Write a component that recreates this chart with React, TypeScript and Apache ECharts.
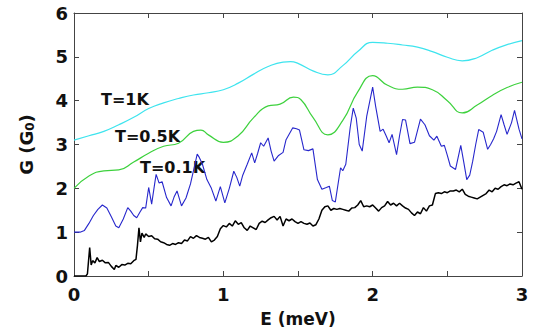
import React, { useEffect, useRef } from "react";
import * as echarts from "echarts";

// T = 1 K (cyan)
const E1 = [0, 0.1, 0.2, 0.3, 0.4, 0.5, 0.6, 0.7, 0.8, 0.9, 1.0, 1.1, 1.2, 1.3, 1.4, 1.45, 1.5, 1.6, 1.7, 1.8, 1.9, 2.0, 2.1, 2.2, 2.3, 2.4, 2.5, 2.6, 2.7, 2.8, 2.9, 3.0];
const G1 = [3.1, 3.2, 3.3, 3.45, 3.62, 3.82, 3.95, 4.05, 4.13, 4.18, 4.25, 4.4, 4.6, 4.78, 4.88, 4.89, 4.85, 4.68, 4.59, 4.8, 5.12, 5.33, 5.31, 5.27, 5.22, 5.12, 4.99, 4.91, 4.98, 5.15, 5.28, 5.37];

// T = 0.5 K (green)
const E05 = [0, 0.1, 0.2, 0.3, 0.4, 0.5, 0.6, 0.7, 0.8, 0.85, 0.9, 1.0, 1.1, 1.2, 1.3, 1.38, 1.47, 1.52, 1.6, 1.7, 1.8, 1.9, 2.0, 2.1, 2.2, 2.3, 2.4, 2.5, 2.6, 2.7, 2.8, 2.9, 3.0];
const G05 = [2.0, 2.28, 2.4, 2.42, 2.6, 2.8, 2.96, 3.03, 3.3, 3.33, 3.22, 3.05, 3.2, 3.6, 3.88, 3.92, 4.08, 4.02, 3.62, 3.22, 3.55, 4.2, 4.57, 4.35, 4.26, 4.31, 4.25, 4.0, 3.72, 3.9, 4.12, 4.3, 4.42];

// T = 0.1 K (blue)
const E01 = [0, 0.04, 0.07, 0.1, 0.13, 0.16, 0.19, 0.22, 0.25, 0.28, 0.3, 0.33, 0.36, 0.38, 0.4, 0.42, 0.44, 0.46, 0.48, 0.5, 0.52, 0.54, 0.55, 0.57, 0.59, 0.62, 0.65, 0.67, 0.69, 0.72, 0.75, 0.78, 0.81, 0.825, 0.84, 0.86, 0.89, 0.92, 0.95, 0.98, 1.01, 1.04, 1.07, 1.09, 1.11, 1.13, 1.16, 1.19, 1.21, 1.23, 1.25, 1.27, 1.3, 1.32, 1.34, 1.37, 1.4, 1.42, 1.465, 1.49, 1.51, 1.54, 1.57, 1.6, 1.63, 1.66, 1.69, 1.71, 1.73, 1.75, 1.785, 1.8, 1.82, 1.85, 1.87, 1.89, 1.91, 1.93, 1.96, 2.0, 2.02, 2.05, 2.07, 2.09, 2.11, 2.13, 2.16, 2.18, 2.2, 2.22, 2.25, 2.28, 2.32, 2.35, 2.38, 2.41, 2.43, 2.46, 2.48, 2.5, 2.52, 2.555, 2.59, 2.61, 2.63, 2.65, 2.67, 2.69, 2.71, 2.74, 2.77, 2.79, 2.81, 2.83, 2.86, 2.88, 2.9, 2.93, 2.95, 2.98, 3.0];
const G01 = [1.0, 1.0, 1.04, 1.2, 1.38, 1.52, 1.62, 1.55, 1.35, 1.14, 1.1, 1.3, 1.56, 1.48, 1.38, 1.33, 1.45, 1.56, 1.55, 2.02, 1.64, 2.1, 2.32, 2.12, 2.15, 1.79, 1.6, 1.8, 1.94, 1.6, 1.78, 2.1, 2.55, 2.78, 2.7, 2.55, 2.2, 2.0, 1.71, 2.04, 1.67, 2.0, 2.39, 2.25, 2.05, 2.3, 2.55, 2.81, 2.58, 2.8, 3.04, 2.96, 3.15, 2.85, 2.62, 2.75, 2.82, 3.11, 3.38, 3.36, 3.33, 2.88, 2.86, 2.9, 2.2, 1.98, 2.02, 2.05, 1.72, 1.69, 2.47, 2.4, 2.55, 3.4, 3.83, 3.6, 3.0, 2.85, 3.64, 4.31, 3.87, 3.3, 3.35, 3.2, 3.04, 3.23, 2.77, 3.2, 3.57, 3.56, 3.02, 3.05, 3.58, 3.45, 3.2, 3.1, 3.19, 2.96, 2.98, 2.75, 2.51, 2.43, 2.98, 2.6, 2.2, 2.3, 2.62, 3.0, 3.34, 3.28, 2.89, 3.0, 3.13, 3.3, 3.68, 3.45, 3.23, 3.5, 3.78, 3.35, 3.13];

// lowest curve (black)
const E0 = [0, 0.04, 0.08, 0.09, 0.105, 0.115, 0.125, 0.14, 0.155, 0.17, 0.19, 0.21, 0.23, 0.25, 0.27, 0.28, 0.3, 0.32, 0.34, 0.36, 0.38, 0.4, 0.415, 0.425, 0.435, 0.445, 0.455, 0.47, 0.48, 0.5, 0.52, 0.54, 0.56, 0.58, 0.6, 0.62, 0.64, 0.66, 0.68, 0.7, 0.72, 0.74, 0.76, 0.78, 0.8, 0.82, 0.84, 0.86, 0.88, 0.9, 0.92, 0.94, 0.96, 0.98, 1.0, 1.02, 1.04, 1.06, 1.08, 1.1, 1.12, 1.14, 1.16, 1.18, 1.2, 1.22, 1.24, 1.26, 1.28, 1.3, 1.32, 1.34, 1.36, 1.38, 1.4, 1.42, 1.44, 1.46, 1.48, 1.5, 1.52, 1.54, 1.56, 1.58, 1.6, 1.62, 1.64, 1.66, 1.68, 1.7, 1.72, 1.74, 1.76, 1.78, 1.8, 1.82, 1.84, 1.86, 1.88, 1.9, 1.92, 1.94, 1.96, 1.98, 2.0, 2.02, 2.04, 2.06, 2.08, 2.1, 2.12, 2.14, 2.16, 2.18, 2.2, 2.22, 2.24, 2.26, 2.28, 2.3, 2.32, 2.34, 2.36, 2.38, 2.4, 2.42, 2.44, 2.46, 2.48, 2.5, 2.52, 2.54, 2.56, 2.58, 2.6, 2.62, 2.64, 2.66, 2.68, 2.7, 2.72, 2.74, 2.76, 2.78, 2.8, 2.82, 2.84, 2.86, 2.88, 2.9, 2.92, 2.94, 2.96, 2.98, 3.0];
const G0 = [0, 0, 0, 0.05, 0.65, 0.25, 0.35, 0.3, 0.42, 0.33, 0.36, 0.3, 0.31, 0.22, 0.15, 0.24, 0.2, 0.26, 0.25, 0.29, 0.28, 0.35, 0.38, 0.7, 1.1, 0.78, 0.98, 0.88, 0.96, 0.9, 0.92, 0.85, 0.84, 0.78, 0.76, 0.72, 0.7, 0.74, 0.72, 0.76, 0.74, 0.82, 0.8, 0.9, 0.86, 0.92, 0.88, 0.86, 0.84, 0.88, 0.78, 0.82, 0.9, 1.08, 1.15, 1.12, 1.2, 1.14, 1.26, 1.18, 1.22, 1.1, 1.04, 1.14, 1.1, 1.06, 1.2, 1.25, 1.22, 1.28, 1.33, 1.36, 1.28, 1.36, 1.14, 1.3, 1.26, 1.3, 1.24, 1.2, 1.24, 1.2, 1.18, 1.21, 1.14, 1.17, 1.3, 1.5, 1.58, 1.6, 1.5, 1.54, 1.52, 1.54, 1.52, 1.5, 1.48, 1.55, 1.56, 1.62, 1.72, 1.58, 1.6, 1.58, 1.62, 1.55, 1.48, 1.56, 1.6, 1.7, 1.62, 1.66, 1.6, 1.66, 1.6, 1.55, 1.52, 1.44, 1.38, 1.46, 1.42, 1.56, 1.48, 1.6, 1.62, 1.88, 1.9, 1.88, 1.92, 1.9, 1.94, 1.94, 1.96, 1.92, 1.98, 1.86, 1.82, 1.8, 1.78, 1.76, 1.8, 1.84, 1.88, 1.96, 1.92, 2.0, 1.98, 2.04, 2.08, 2.06, 2.1, 2.08, 2.12, 2.15, 1.98];

const X_TICKS = [0, 1, 2, 3];
const Y_TICKS = [0, 1, 2, 3, 4, 5, 6];
const LABELS = ["T=1K", "T=0.5K", "T=0.1K"];

const zip = (xs: number[], ys: number[]) => xs.map((x, i) => [x, ys[i]]);

const FONT = "'DejaVu Sans', Arial, Helvetica, sans-serif";
const AXIS_COLOR = "#444";
const TEXT_COLOR = "#111";

export default function App() {
  const ref = useRef<HTMLDivElement>(null);
  useEffect(() => {
    if (!ref.current) return;
    const chart = echarts.init(ref.current, null, { renderer: "svg" });
    const xLabel = (v: number) => (X_TICKS.includes(v) ? String(v) : "");
    const yLabel = (v: number) => (Y_TICKS.includes(v) ? String(v) : "");
    const baseAxisLine = { show: true, onZero: false, lineStyle: { color: AXIS_COLOR, width: 1 } };
    const baseTick = { show: true, inside: true, length: 5, lineStyle: { color: AXIS_COLOR, width: 1 } };
    const lineSeries = (name: string, data: number[][], color: string, smooth: boolean, width: number) => ({
      type: "line",
      name,
      data,
      smooth,
      showSymbol: false,
      symbol: "none",
      lineStyle: { color, width },
      xAxisIndex: 0,
      yAxisIndex: 0,
    });
    const labelText = (text: string, left: number, top: number) => ({
      type: "text",
      left,
      top,
      style: { text, fontFamily: FONT, fontWeight: "bold", fontSize: 16, fill: TEXT_COLOR },
    });
    chart.setOption({
      animation: false,
      backgroundColor: "#fff",
      grid: { left: 74, right: 15, top: 13, bottom: 55, containLabel: false },
      xAxis: [
        {
          type: "value",
          min: 0,
          max: 3,
          interval: 0.5,
          name: "E (meV)",
          nameLocation: "middle",
          nameGap: 34,
          nameTextStyle: { fontFamily: FONT, fontWeight: "bold", fontSize: 17, color: TEXT_COLOR },
          axisLine: baseAxisLine,
          axisTick: baseTick,
          splitLine: { show: false },
          axisLabel: { formatter: xLabel, fontFamily: FONT, fontWeight: "bold", fontSize: 18, color: TEXT_COLOR, margin: 9 },
        },
        {
          type: "value",
          position: "top",
          min: 0,
          max: 3,
          interval: 0.5,
          axisLine: baseAxisLine,
          axisTick: baseTick,
          splitLine: { show: false },
          axisLabel: { show: false },
        },
      ],
      yAxis: [
        {
          type: "value",
          min: 0,
          max: 6,
          interval: 1,
          name: "G (G{sub|0})",
          nameLocation: "middle",
          nameGap: 38,
          nameRotate: 90,
          nameTextStyle: {
            fontFamily: FONT,
            fontWeight: "bold",
            fontSize: 18,
            color: TEXT_COLOR,
            rich: {
              sub: { fontFamily: FONT, fontWeight: "bold", fontSize: 12, color: TEXT_COLOR, verticalAlign: "bottom", padding: [8, 0, 0, 0] },
            },
          },
          axisLine: baseAxisLine,
          axisTick: baseTick,
          splitLine: { show: false },
          axisLabel: { formatter: yLabel, fontFamily: FONT, fontWeight: "bold", fontSize: 18, color: TEXT_COLOR, margin: 6 },
        },
        {
          type: "value",
          position: "right",
          min: 0,
          max: 6,
          interval: 1,
          axisLine: baseAxisLine,
          axisTick: baseTick,
          splitLine: { show: false },
          axisLabel: { show: false },
        },
      ],
      series: [
        lineSeries("T=1K", zip(E1, G1), "#3ee4ee", true, 1.2),
        lineSeries("T=0.5K", zip(E05, G05), "#3dd13d", true, 1.2),
        lineSeries("T=0.1K", zip(E01, G01), "#2727cc", false, 1.1),
        lineSeries("T=0", zip(E0, G0), "#000000", false, 1.5),
      ],
      graphic: [
        labelText(LABELS[0], 101, 91),
        labelText(LABELS[1], 115, 128),
        labelText(LABELS[2], 140, 159),
      ],
    });
    return () => chart.dispose();
  }, []);
  return <div ref={ref} style={{ width: 537, height: 332, position: "absolute", left: 0, top: 0 }} />;
}
